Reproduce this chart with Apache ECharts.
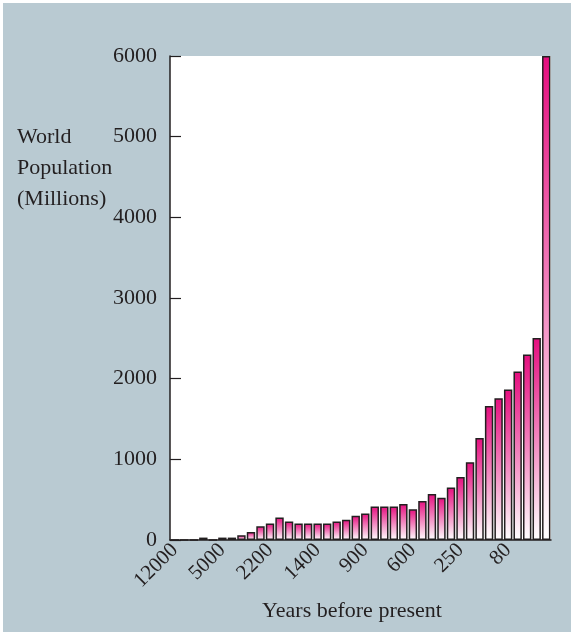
<!DOCTYPE html>
<html>
<head>
<meta charset="utf-8">
<script src="https://cdn.jsdelivr.net/npm/echarts@6/dist/echarts.min.js"></script>
<style>
  html, body { margin: 0; padding: 0; background: #ffffff; }
  #chart { position: absolute; left: 3px; top: 3px; width: 568px; height: 629px; }
</style>
</head>
<body>
<div id="chart"></div>
<script>
// Years before present, labelled every fifth bar
const tickLabels = ['12000', '5000', '2200', '1400', '900', '600', '250', '80'];
const slotsPerLabel = 5;

// World population in millions, one value per bar (oldest first)
const population = [
  0, 0, 0, 30, 0, 30, 30, 60, 100, 170,
  205, 280, 230, 205, 205, 205, 205, 230, 250, 300,
  330, 415, 415, 415, 445, 380, 485, 570, 525, 650,
  780, 965, 1265, 1660, 1758, 1865, 2088, 2300, 2505, 6000
];

const yTicks = [0, 1000, 2000, 3000, 4000, 5000, 6000];

const categories = population.map((_, i) =>
  i % slotsPerLabel === 0 ? (tickLabels[i / slotsPerLabel] || '') : '');

const serif = "'Liberation Serif', 'DejaVu Serif', serif";
const ink = '#231f20';

const chart = echarts.init(document.getElementById('chart'), null, { renderer: 'canvas' });

chart.setOption({
  backgroundColor: '#b9cad2',
  animation: false,
  grid: {
    left: 167, right: 20, top: 53, bottom: 92,
    show: true, backgroundColor: '#ffffff', borderWidth: 0
  },
  xAxis: {
    type: 'category',
    data: categories,
    axisLine: { show: true, lineStyle: { color: ink, width: 1.5 } },
    axisTick: { show: false },
    axisLabel: {
      interval: 0, rotate: 45, margin: 7,
      fontFamily: serif, fontSize: 21, color: ink
    }
  },
  yAxis: {
    type: 'value',
    min: yTicks[0], max: yTicks[yTicks.length - 1], interval: 1000,
    axisLine: { show: true, lineStyle: { color: ink, width: 1.5 } },
    axisTick: { show: true, inside: true, length: 11, lineStyle: { color: ink, width: 1.2 } },
    splitLine: { show: false },
    axisLabel: {
      margin: 13, fontFamily: serif, fontSize: 22, color: ink,
      formatter: (v) => String(v)
    }
  },
  series: [{
    type: 'bar',
    data: population,
    barCategoryGap: '12%',
    itemStyle: {
      color: new echarts.graphic.LinearGradient(0, 0, 0, 1, [
        { offset: 0, color: '#e50f7f' },
        { offset: 1, color: '#ffffff' }
      ]),
      borderColor: ink,
      borderWidth: 1.5
    }
  }],
  graphic: [
    {
      type: 'text', left: 14, top: 119,
      style: {
        text: 'World\nPopulation\n(Millions)',
        font: '22px ' + serif, fill: ink, lineHeight: 31
      }
    },
    {
      type: 'text', x: 349, y: 608,
      style: {
        text: 'Years before present',
        font: '22px ' + serif, fill: ink,
        align: 'center', verticalAlign: 'middle'
      }
    }
  ]
});
</script>
</body>
</html>
